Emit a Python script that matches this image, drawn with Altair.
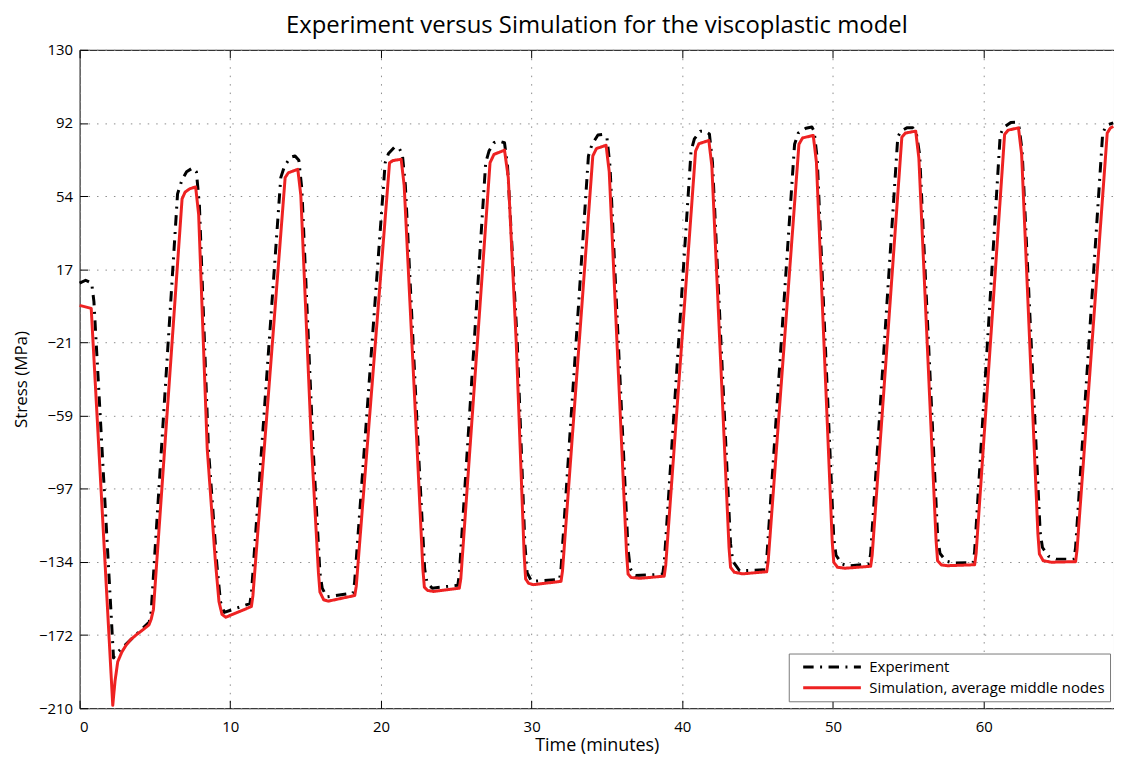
import altair as alt
import pandas as pd

# ---------------- data ----------------
series_names = ["Experiment", "Simulation, average middle nodes"]
series_colors = ["#000000", "#ee2222"]
series_dashes = [[10.5, 6.5, 2, 6.5], [1, 0]]

x_ticks = [0, 10, 20, 30, 40, 50, 60]
y_ticks = [130, 92.22, 54.44, 16.67, -21.11, -58.89, -96.67, -134.44, -172.22, -210]

exp_t = [0.0, 0.4, 0.8, 0.95, 2.25, 2.4, 4.62, 4.75, 6.5, 6.8, 7.1, 7.5, 7.75, 7.95, 8.55, 9.1, 9.35, 9.6,
         11.3, 11.4, 13.35, 13.6, 14.0, 14.3, 14.55, 14.75, 15.5, 15.95, 16.1, 16.4,
         18.15, 18.25, 20.28, 20.5, 20.9, 21.2, 21.42, 21.62, 22.48, 22.9, 23.05, 23.4,
         25.1, 25.2, 26.95, 27.17, 27.5, 27.83, 28.2, 28.4, 29.05, 29.55, 29.7, 30.0,
         31.85, 31.95, 33.77, 34.0, 34.4, 34.7, 35.0, 35.2, 36.4, 36.55, 36.9,
         38.7, 38.8, 40.58, 40.8, 41.2, 41.5, 41.8, 42.0, 43.2, 43.35, 43.8,
         45.5, 45.6, 47.45, 47.7, 48.2, 48.6, 48.75, 48.95, 50.05, 50.2, 50.6, 51.0,
         52.4, 52.5, 54.3, 54.5, 54.9, 55.3, 55.55, 55.75, 56.95, 57.1, 57.5, 58.0,
         59.3, 59.4, 61.1, 61.35, 61.8, 62.1, 62.35, 62.55, 63.75, 63.9, 64.3, 64.8,
         66.0, 66.1, 67.9, 68.15, 68.6]
exp_v = [9.5, 11, 9.5, 0, -184, -182, -165.5, -160, 55.6, 63, 67, 69, 67, 50, -76, -135, -155, -160.5,
         -156, -151, 64, 70, 74.5, 75.2, 73, 58, -76, -140, -148, -152.5,
         -150.5, -145, 71.7, 76.5, 79.8, 79.3, 76, 60, -76, -138, -145, -148,
         -146.5, -141, 71.7, 77.7, 82, 82.9, 82, 70, -21.6, -125, -140, -144.5,
         -143.5, -138, 75.2, 81, 86, 86.3, 84.5, 70, -128, -138, -141.5,
         -140.8, -135, 77.7, 84, 88, 88, 86.5, 72, -125, -134, -139,
         -138.5, -133, 81.2, 87, 89.5, 90.1, 88, 74, -122, -131, -135.5, -136.5,
         -135.5, -130, 84.9, 88, 89.7, 89.7, 86, 76, -122, -130, -134, -135,
         -134.8, -129, 86.3, 90, 92.5, 92.6, 90, 78, -119, -127, -131.5, -133,
         -133, -127, 87, 91, 92.3]

sim_t = [0.0, 0.77, 1.5, 2.2, 2.35, 2.53, 2.8, 3.08, 3.4, 3.74, 4.2, 4.6, 4.75, 4.9, 6.8, 7.0, 7.3, 7.7,
         7.9, 8.47, 9.0, 9.25, 9.45, 9.7, 11.4, 11.5, 13.64, 13.85, 14.48, 14.68, 15.4, 15.85, 15.95,
         16.2, 16.5, 18.26, 18.36, 20.57, 20.8, 21.34, 21.54, 22.4, 22.78, 22.88, 23.1, 23.5,
         25.2, 25.3, 27.24, 27.5, 28.2, 28.45, 28.98, 29.5, 29.6, 29.8, 30.1,
         31.95, 32.05, 34.06, 34.3, 34.94, 35.15, 36.3, 36.4, 36.6, 37.2,
         38.8, 38.9, 40.88, 41.1, 41.76, 41.96, 43.1, 43.2, 43.45, 44.0,
         45.6, 45.7, 47.74, 47.98, 48.69, 48.9, 49.95, 50.05, 50.3, 50.8,
         52.5, 52.6, 54.57, 54.8, 55.49, 55.7, 56.84, 56.94, 57.2, 57.6,
         59.4, 59.5, 61.39, 61.62, 62.31, 62.52, 63.6, 63.7, 63.95, 64.5,
         66.1, 66.2, 68.2, 68.4, 68.6]
sim_v = [-2.0, -3.5, -108, -208.5, -196, -186, -181, -177.5, -174.5, -172.2, -169.5, -167, -164, -159,
         53, 56.5, 58.2, 59.2, 45, -76, -133, -155, -161.5, -163, -157.5, -152, 64, 66.5, 68.3, 55,
         -76, -140, -150, -154, -154.7, -151.8, -147, 71.7, 72.8, 73.5, 60, -76, -138, -147.5,
         -149.2, -149.7, -148, -143, 71.7, 76, 78.2, 64, -21.6, -130, -143.2, -145.5, -146.2,
         -144.5, -139, 75.2, 79, 80.7, 67, -130, -140.7, -142.5, -142.9,
         -141.8, -136, 77.7, 81.5, 83.2, 70, -127, -137.2, -139.8, -140.6,
         -139.5, -134, 81.2, 84.5, 85.8, 72, -124, -134.6, -137.2, -137.7,
         -136.7, -131, 84.9, 87, 88.0, 74, -123, -133.8, -136, -136.4,
         -135.9, -130, 86.3, 88.5, 89.7, 76, -120, -130.4, -133.8, -134.6,
         -134.3, -128, 87, 89.5, 90.5]

FONT = "Open Sans"

exp_df = pd.DataFrame({"t": exp_t, "v": exp_v, "series": series_names[0], "i": range(len(exp_t))})
sim_df = pd.DataFrame({"t": sim_t, "v": sim_v, "series": series_names[1], "i": range(len(sim_t))})

x_scale = alt.Scale(domain=[0, 68.65], nice=False, zero=False)
y_scale = alt.Scale(domain=[-210, 130], nice=False, zero=False)

legend = alt.Legend(
    title=None, orient="none", legendX=713, legendY=607,
    symbolType="stroke", symbolSize=3364, symbolStrokeWidth=3, clipHeight=17,
    symbolOffset=8, labelOffset=7, rowPadding=4, padding=5, labelLimit=400,
    fillColor="white", strokeColor="#7a7a7a",
    labelFont=FONT, labelFontSize=15, labelColor="black",
)
color = alt.Color("series:N", scale=alt.Scale(domain=series_names, range=series_colors), legend=legend)
dash = alt.StrokeDash("series:N", scale=alt.Scale(domain=series_names, range=series_dashes), legend=legend)

TICK = 8
bottom_axis = alt.Axis(
    orient="bottom", values=x_ticks, offset=-TICK, tickSize=TICK, tickColor="black", domain=False,
    grid=True, gridColor="#8c8c8c", gridDash=[1.5, 7], gridWidth=1,
    labelPadding=11, labelFont=FONT, labelFontSize=15, labelColor="black", format="d",
    title="Time (minutes)", titleFont=FONT, titleFontSize=18, titleFontWeight="normal",
    titleColor="black", titlePadding=2,
)
top_axis = alt.Axis(
    orient="top", values=x_ticks, offset=-TICK, tickSize=TICK, tickColor="black", domain=False,
    grid=False, labels=False, title=None,
)
left_axis = alt.Axis(
    orient="left", values=y_ticks, offset=-TICK, tickSize=TICK, tickColor="black", domain=False,
    grid=True, gridColor="#8c8c8c", gridDash=[1.5, 7], gridWidth=1,
    labelPadding=7, labelFont=FONT, labelFontSize=15, labelColor="black",
    labelExpr="format(round(datum.value), 'd')",
    title="Stress (MPa)", titleFont=FONT, titleFontSize=17, titleFontWeight="normal",
    titleColor="black", titlePadding=8,
)

exp_layer = alt.Chart(exp_df).mark_line(strokeWidth=3, strokeCap="butt", strokeJoin="round").encode(
    x=alt.X("t:Q", scale=x_scale, axis=bottom_axis),
    y=alt.Y("v:Q", scale=y_scale, axis=left_axis),
    color=color, strokeDash=dash, order="i:Q",
)
sim_layer = alt.Chart(sim_df).mark_line(strokeWidth=3, strokeCap="butt", strokeJoin="round").encode(
    x=alt.X("t:Q", scale=x_scale, axis=top_axis),
    y=alt.Y("v:Q", scale=y_scale),
    color=color, strokeDash=dash, order="i:Q",
)

chart = alt.layer(exp_layer, sim_layer).resolve_axis(x="independent").properties(
    width=1040, height=662,
    autosize=alt.AutoSizeParams(type="none"),
    padding={"left": 72, "top": 40, "right": 0, "bottom": 48},
    title=alt.TitleParams(
        "Experiment versus Simulation for the viscoplastic model",
        font=FONT, fontSize=24, fontWeight="normal", color="black", anchor="middle", offset=5,
    ),
    background="white",
).configure_view(stroke="black", strokeWidth=1)

chart.save("out.html", embed_options={"renderer": "svg", "actions": False})
